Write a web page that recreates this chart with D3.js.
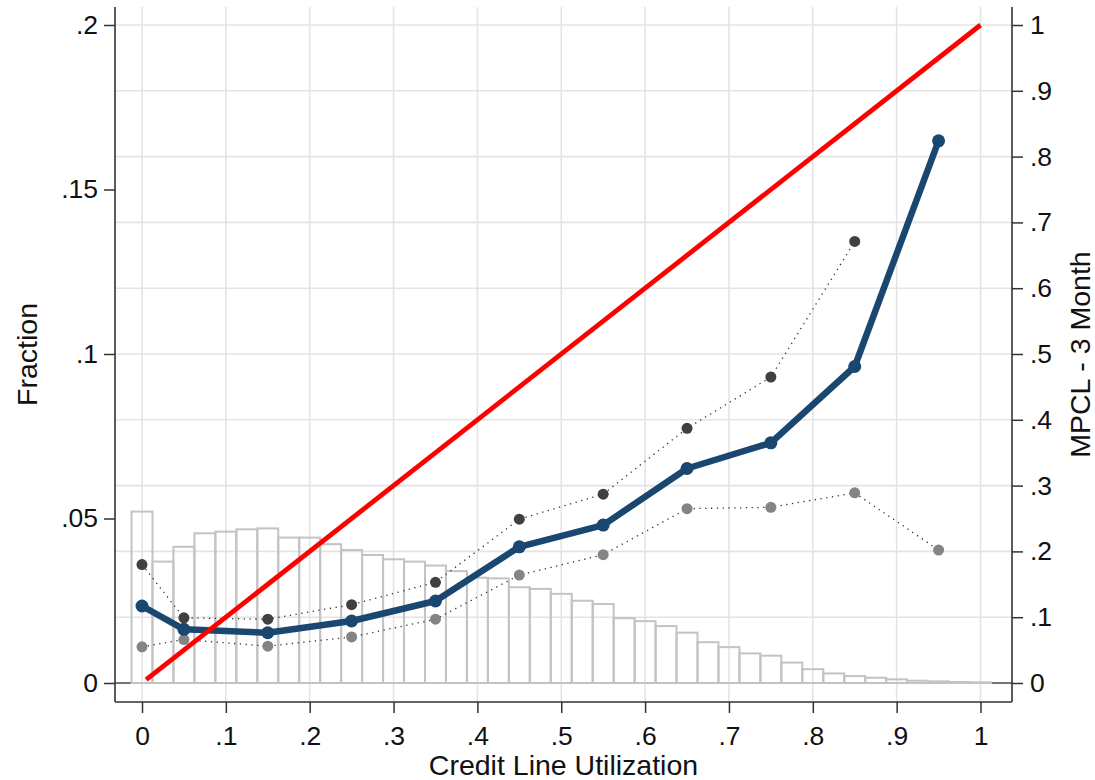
<!DOCTYPE html>
<html>
<head>
<meta charset="utf-8">
<script src="https://cdn.jsdelivr.net/npm/d3@7"></script>
<style>
  body { margin: 0; background: #fff; }
  svg { display: block; font-family: "Liberation Sans", Arial, sans-serif; }
</style>
</head>
<body>
<svg id="chart" width="1095" height="780"></svg>
<script>
// ---- data ----
const binCenters = [0,0.025,0.05,0.075,0.1,0.125,0.15,0.175,0.2,0.225,0.25,0.275,0.3,0.325,0.35,0.375,0.4,0.425,0.45,0.475,0.5,0.525,0.55,0.575,0.6,0.625,0.65,0.675,0.7,0.725,0.75,0.775,0.8,0.825,0.85,0.875,0.9,0.925,0.95,0.975,1.0];
const binFraction = [0.0521,0.0369,0.0414,0.0455,0.0460,0.0467,0.0470,0.0442,0.0442,0.0422,0.0404,0.0389,0.0376,0.0369,0.0357,0.0340,0.0320,0.0318,0.0291,0.0286,0.0271,0.0250,0.0240,0.0197,0.0188,0.0173,0.0153,0.0124,0.0109,0.0090,0.0083,0.0062,0.0042,0.0029,0.0021,0.0016,0.0011,0.0007,0.0005,0.0003,0.0002];
const binWidth = 0.025;

const mpclX = [0,0.05,0.15,0.25,0.35,0.45,0.55,0.65,0.75,0.85,0.95];
const mpcl = [0.117,0.0816,0.0764,0.0942,0.1246,0.207,0.240,0.326,0.365,0.481,0.824];
const upperX = [0,0.05,0.15,0.25,0.35,0.45,0.55,0.65,0.75,0.85];
const upper = [0.180,0.099,0.097,0.119,0.153,0.249,0.287,0.387,0.465,0.671];
const lowerX = [0,0.05,0.15,0.25,0.35,0.45,0.55,0.65,0.75,0.85,0.95];
const lower = [0.055,0.066,0.056,0.070,0.097,0.164,0.195,0.265,0.267,0.289,0.202];
const diagX = [0.005,1];
const diagY = [0.005,1];

const xTicks = [0,0.1,0.2,0.3,0.4,0.5,0.6,0.7,0.8,0.9,1];
const leftTicks = [0,0.05,0.1,0.15,0.2];
const rightTicks = [0,0.1,0.2,0.3,0.4,0.5,0.6,0.7,0.8,0.9,1];
const xTitle = "Credit Line Utilization";
const leftTitle = "Fraction";
const rightTitle = "MPCL - 3 Month";

// ---- layout ----
const svg = d3.select("#chart");
const plotL = 115, plotR = 1012, plotT = 7, plotB = 702;
const x = d3.scaleLinear().domain([0,1]).range([142,980.5]);
const yL = d3.scaleLinear().domain([0,0.2]).range([683,25]);
const yR = d3.scaleLinear().domain([0,1]).range([683,25]);
const fmt = d => (d === 0 ? "0" : d === 1 ? "1" : String(+d.toFixed(3)).replace(/^0\./, "."));
const gridColor = "#e4e4e4";
const axisColor = "#333";

// gridlines
const g = svg.append("g");
g.selectAll("line.vg").data(xTicks).join("line")
  .attr("x1", d => x(d)).attr("x2", d => x(d))
  .attr("y1", plotT).attr("y2", plotB)
  .attr("stroke", gridColor).attr("stroke-width", 1.6);
g.selectAll("line.hg").data(rightTicks.filter(d => d > 0)).join("line")
  .attr("x1", plotL).attr("x2", plotR)
  .attr("y1", d => yR(d)).attr("y2", d => yR(d))
  .attr("stroke", gridColor).attr("stroke-width", 1.6);

// zero line
svg.append("line").attr("x1", plotL).attr("x2", plotR)
  .attr("y1", yL(0)).attr("y2", yL(0))
  .attr("stroke", "#444").attr("stroke-width", 1.5);

// histogram
svg.append("g").selectAll("rect").data(binCenters.map((c,i) => ({c, v: binFraction[i]}))).join("rect")
  .attr("x", d => x(d.c - binWidth/2))
  .attr("width", d => x(d.c + binWidth/2) - x(d.c - binWidth/2))
  .attr("y", d => yL(d.v))
  .attr("height", d => yL(0) - yL(d.v))
  .attr("fill", "none").attr("stroke", "#c3c3c3").attr("stroke-width", 2);

// dotted CI lines
const lineR = d3.line().x(d => x(d[0])).y(d => yR(d[1]));
const upperPts = upperX.map((v,i) => [v, upper[i]]);
const lowerPts = lowerX.map((v,i) => [v, lower[i]]);
[upperPts, lowerPts].forEach(pts => {
  svg.append("path").attr("d", lineR(pts)).attr("fill", "none")
    .attr("stroke", "#333").attr("stroke-width", 1.3)
    .attr("stroke-dasharray", "1.3,4.5");
});
svg.append("g").selectAll("circle").data(upperPts).join("circle")
  .attr("cx", d => x(d[0])).attr("cy", d => yR(d[1])).attr("r", 5.5).attr("fill", "#404040");
svg.append("g").selectAll("circle").data(lowerPts).join("circle")
  .attr("cx", d => x(d[0])).attr("cy", d => yR(d[1])).attr("r", 5.5).attr("fill", "#848484");

// MPCL line
const mpclPts = mpclX.map((v,i) => [v, mpcl[i]]);
svg.append("path").attr("d", lineR(mpclPts)).attr("fill", "none")
  .attr("stroke", "#1a476f").attr("stroke-width", 6.5).attr("stroke-linejoin", "round");
svg.append("g").selectAll("circle").data(mpclPts).join("circle")
  .attr("cx", d => x(d[0])).attr("cy", d => yR(d[1])).attr("r", 6.5).attr("fill", "#1a476f");

// 45 degree line
svg.append("path").attr("d", lineR(diagX.map((v,i) => [v, diagY[i]])))
  .attr("fill", "none").attr("stroke", "#ff0000").attr("stroke-width", 4.8);

// axes
const left = svg.append("g").attr("transform", `translate(${plotL},0)`)
  .call(d3.axisLeft(yL).tickValues(leftTicks).tickFormat(fmt).tickSize(11).tickPadding(6));
const right = svg.append("g").attr("transform", `translate(${plotR},0)`)
  .call(d3.axisRight(yR).tickValues(rightTicks).tickFormat(fmt).tickSize(11).tickPadding(7));
const bottom = svg.append("g").attr("transform", `translate(0,${plotB})`)
  .call(d3.axisBottom(x).tickValues(xTicks).tickFormat(fmt).tickSize(11).tickPadding(13));
[left, right].forEach(a => a.select(".domain").attr("d", null));
bottom.select(".domain").remove();
[left, right, bottom].forEach(a => {
  a.selectAll(".tick line").attr("stroke", axisColor).attr("stroke-width", 1.5);
  a.selectAll(".tick text").attr("font-size", 26.5).attr("fill", "#111")
    .attr("font-family", "Liberation Sans, Arial, sans-serif");
});
// axis lines
svg.append("line").attr("x1", plotL).attr("x2", plotL).attr("y1", plotT).attr("y2", plotB)
  .attr("stroke", axisColor).attr("stroke-width", 1.6);
svg.append("line").attr("x1", plotR).attr("x2", plotR).attr("y1", plotT).attr("y2", plotB)
  .attr("stroke", axisColor).attr("stroke-width", 1.6);
svg.append("line").attr("x1", plotL).attr("x2", plotR).attr("y1", plotB).attr("y2", plotB)
  .attr("stroke", axisColor).attr("stroke-width", 1.6);

// titles
svg.append("text").attr("x", (plotL + plotR)/2).attr("y", 775)
  .attr("text-anchor", "middle").attr("font-size", 28.5).attr("fill", "#111").text(xTitle);
svg.append("text").attr("transform", `translate(37,${(plotT + plotB)/2}) rotate(-90)`)
  .attr("text-anchor", "middle").attr("font-size", 28.5).attr("fill", "#111").text(leftTitle);
svg.append("text").attr("transform", `translate(1090,${(plotT + plotB)/2}) rotate(-90)`)
  .attr("text-anchor", "middle").attr("font-size", 28.5).attr("fill", "#111").text(rightTitle);
</script>
</body>
</html>
